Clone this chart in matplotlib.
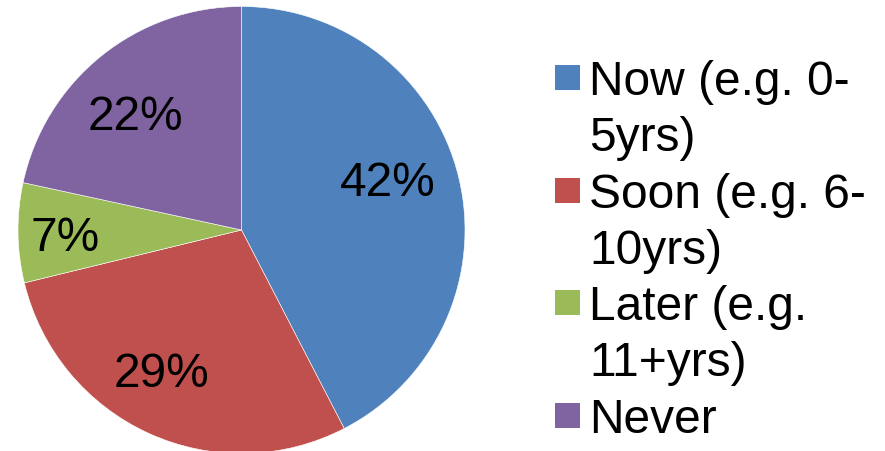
import matplotlib
matplotlib.use("Agg")
import matplotlib.pyplot as plt
from matplotlib.patches import Rectangle
import numpy as np

categories = ["Now (e.g. 0-5yrs)", "Soon (e.g. 6-10yrs)", "Later (e.g. 11+yrs)", "Never"]
legend_lines = [["Now (e.g. 0-", "5yrs)"], ["Soon (e.g. 6-", "10yrs)"],
                ["Later (e.g.", "11+yrs)"], ["Never"]]
values = [42.4, 28.8, 7.2, 21.6]
colors = ["#4F81BD", "#C0504D", "#9BBB59", "#8064A2"]
label_dist = [0.689, 0.734, 0.788, 0.695]
label_ang_offset = [4.1, -4.8, 1.8, 4.25]

plt.rcParams['font.family'] = ['Liberation Sans', 'DejaVu Sans']
FS = 34.5

W, H = 885, 452
fig = plt.figure(figsize=(W / 100, H / 100), dpi=100)
cx, cy, R = 241.5, 231, 223.5
ax = fig.add_axes([(cx - R) / W, (H - cy - R) / H, 2 * R / W, 2 * R / H])
wedges, _ = ax.pie(values, colors=colors, startangle=90, counterclock=False,
                   radius=1.0, wedgeprops=dict(edgecolor="white", linewidth=0.4))
ax.set_xlim(-1, 1)
ax.set_ylim(-1, 1)
ax.set_aspect("equal")
ax.axis("off")

total = sum(values)
for w, v, d, off in zip(wedges, values, label_dist, label_ang_offset):
    ang = np.deg2rad((w.theta1 + w.theta2) / 2 + off)
    ax.text(d * np.cos(ang), d * np.sin(ang), f"{round(100 * v / total):d}%",
            ha="center", va="center", fontsize=FS, color="black")

# legend drawn manually (multi-line entries, marker aligned with first line)
x_sq, sq = 555, 25
x_txt = 589
base0 = 95
line_h = 56.3
line_idx = 0
for lines, col in zip(legend_lines, colors):
    b = base0 + line_idx * line_h
    fig.patches.append(Rectangle((x_sq / W, (H - (b - 4)) / H), sq / W, sq / H,
                                 transform=fig.transFigure, facecolor=col,
                                 edgecolor="none"))
    for j, t in enumerate(lines):
        fig.text(x_txt / W, (H - (b + j * line_h)) / H, t, fontsize=FS,
                 ha="left", va="baseline", color="black")
    line_idx += len(lines)

fig.savefig("out.png", dpi=100)
